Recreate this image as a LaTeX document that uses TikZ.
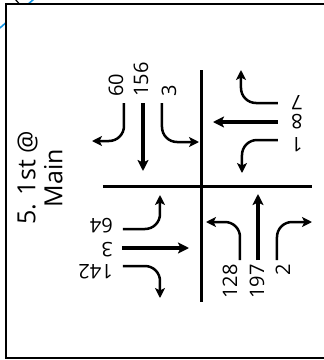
\documentclass[tikz,border=0pt]{standalone}
\usepackage{fontspec}
\setmainfont{Open Sans}
\usetikzlibrary{arrows.meta}
\definecolor{skyblue}{RGB}{20,150,230}
\begin{document}
\begin{tikzpicture}[x=1pt,y=-1pt,
  turn/.style={line width=2.5pt, rounded corners=15pt, -{Stealth[length=10pt,width=10pt,inset=2.5pt]}},
  thru/.style={line width=3.2pt, -{Stealth[length=11pt,width=11pt,inset=2.5pt]}},
  road/.style={line width=3pt},
  lbl/.style={font=\fontsize{20}{20}\selectfont, inner sep=0pt},
  frame/.style={line width=2.2pt, fill=white}]
\useasboundingbox (0,0) rectangle (324,360);
\clip (0,0) rectangle (324,360);
% stray curve behind the frame
\draw[skyblue, line width=1.6pt] (0,28) .. controls (12,17) and (24,8) .. (34,-1);
\draw[black, line width=1.2pt] (15,-1) -- (19,3.5);
% frame
\draw[frame] (6,4) rectangle (332,358);
% title
\node[rotate=90, align=center, inner sep=0pt, font=\fontsize{25}{27}\selectfont] (title) at (40,178) {5. 1st @\\Main};
% roads
\coordinate (vtop) at (202,70);
\coordinate (vbot) at (202,302);
\coordinate (hleft) at (103,186);
\coordinate (hright) at (312,186);
\draw[road] (vtop) -- (vbot);
\draw[road] (hleft) -- (hright);
% southbound approach
\coordinate (sbLs) at (124,103); \coordinate (sbLe) at (92,141);
\coordinate (sbTs) at (143,103); \coordinate (sbTe) at (143,171);
\coordinate (sbRs) at (162,103); \coordinate (sbRe) at (199,142);
\draw[turn] (sbLs) |- (sbLe);
\draw[thru] (sbTs) -- (sbTe);
\draw[turn] (sbRs) |- (sbRe);
\node[lbl, rotate=90, anchor=west] (sbL) at (116,97) {60};
\node[lbl, rotate=90, anchor=west] (sbT) at (141,97) {156};
\node[lbl, rotate=90, anchor=west] (sbR) at (169,97) {3};
% westbound approach
\coordinate (wbRs) at (278,103); \coordinate (wbRe) at (241,70);
\coordinate (wbTs) at (278,122); \coordinate (wbTe) at (213,122);
\coordinate (wbLs) at (278,140); \coordinate (wbLe) at (242,173);
\draw[turn] (wbRs) -| (wbRe);
\draw[thru] (wbTs) -- (wbTe);
\draw[turn] (wbLs) -| (wbLe);
\node[lbl, rotate=180, anchor=east] (wbR) at (291,103) {7};
\node[lbl, rotate=180, anchor=east] (wbT) at (291,122) {8};
\node[lbl, rotate=180, anchor=east] (wbL) at (291,145) {1};
% eastbound approach
\coordinate (ebLs) at (123,229); \coordinate (ebLe) at (160,195);
\coordinate (ebTs) at (122,248); \coordinate (ebTe) at (189,248);
\coordinate (ebRs) at (123,266); \coordinate (ebRe) at (160,298);
\draw[turn] (ebLs) -| (ebLe);
\draw[thru] (ebTs) -- (ebTe);
\draw[turn] (ebRs) -| (ebRe);
\node[lbl, rotate=180, anchor=west] (ebL) at (113,226) {64};
\node[lbl, rotate=180, anchor=west] (ebT) at (113,250) {3};
\node[lbl, rotate=180, anchor=west] (ebR) at (113,272) {142};
% northbound approach
\coordinate (nbLs) at (240,260); \coordinate (nbLe) at (206,222);
\coordinate (nbTs) at (258,260); \coordinate (nbTe) at (258,194);
\coordinate (nbRs) at (277,260); \coordinate (nbRe) at (312,222);
\draw[turn] (nbLs) |- (nbLe);
\draw[thru] (nbTs) -- (nbTe);
\draw[turn] (nbRs) |- (nbRe);
\node[lbl, rotate=90, anchor=east] (nbL) at (230,264) {128};
\node[lbl, rotate=90, anchor=east] (nbT) at (257,264) {197};
\node[lbl, rotate=90, anchor=east] (nbR) at (283,264) {2};
\end{tikzpicture}
\end{document}
